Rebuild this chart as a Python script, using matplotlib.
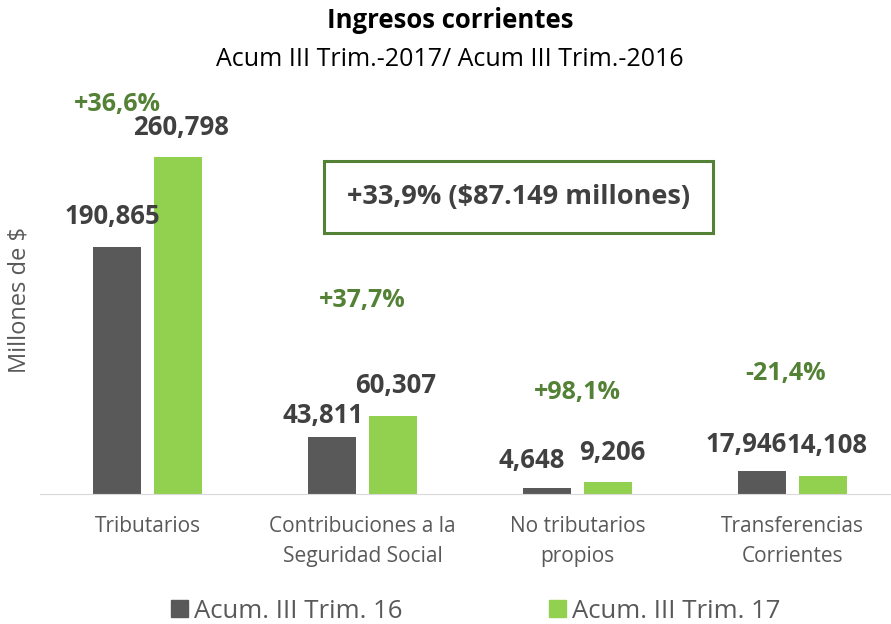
import matplotlib.pyplot as plt
from matplotlib.patches import Patch

# Data
categories = ['Tributarios', 'Contribuciones a la\nSeguridad Social',
              'No tributarios\npropios', 'Transferencias\nCorrientes']
acum_16 = [190865, 43811, 4648, 17946]
acum_17 = [260798, 60307, 9206, 14108]
pct_labels = ['+36,6%', '+37,7%', '+98,1%', '-21,4%']
series_names = ['Acum. III Trim. 16', 'Acum. III Trim. 17']
total_label = '+33,9% ($87.149 millones)'

# Styling / placement
dark = '#595959'
green = '#92D050'
pct_green = '#538135'
label_col = '#404040'
pct_x = [-0.14, 0.0, 0.0, -0.03]              # shift of % labels from category centre
pct_y = [300800, 150000, 78800, 92800]        # height of % labels (data units)
dx16 = [-5, -9, -15, -16]                      # value label offsets, pixels
dx17 = [3, 3, 4, 4]
dy16 = [23, 14, 20, 19]
dy17 = [22, 23, 22, 23]

plt.rcParams['font.family'] = ['Open Sans', 'DejaVu Sans']

fig = plt.figure(figsize=(8.91, 6.24), dpi=100)
ax = fig.add_axes([40 / 891, 130 / 624, 860 / 891, 388 / 624])

x = range(len(categories))
w = 0.223
off = 0.142
ax.bar([i - off for i in x], acum_16, w, color=dark)
ax.bar([i + off for i in x], acum_17, w, color=green)

ax.set_xlim(-0.5, 3.5)
ax.set_ylim(0, 300000)

px = 0.72  # pixels -> points
for i in x:
    ax.annotate(f'{acum_16[i]:,}', xy=(i - off, acum_16[i]),
                xytext=(dx16[i] * px, dy16[i] * px), textcoords='offset points',
                ha='center', va='baseline', fontsize=18.5, fontweight='bold',
                color=label_col, annotation_clip=False)
    ax.annotate(f'{acum_17[i]:,}', xy=(i + off, acum_17[i]),
                xytext=(dx17[i] * px, dy17[i] * px), textcoords='offset points',
                ha='center', va='baseline', fontsize=18.5, fontweight='bold',
                color=label_col, annotation_clip=False)
    ax.text(i + pct_x[i], pct_y[i], pct_labels[i],
            ha='center', va='center', fontsize=18, fontweight='bold',
            color=pct_green, clip_on=False)

ax.text(1.726, 230000, total_label, ha='center', va='center', fontsize=19.5,
        fontweight='bold', color=label_col,
        bbox=dict(boxstyle='square,pad=0.85', fc='white', ec=pct_green, lw=2.2))

ax.set_xticks(list(x))
ax.set_xticklabels(categories, fontsize=15, color=dark, linespacing=1.55)
ax.tick_params(axis='x', length=0, pad=16)
ax.set_yticks([])
for s in ['top', 'right', 'left']:
    ax.spines[s].set_visible(False)
ax.spines['bottom'].set_color('#D9D9D9')

fig.text(20 / 891, 1 - 300 / 624, 'Millones de $', rotation=90, ha='center',
         va='center', fontsize=17, color=dark)
fig.text(450 / 891, 1 - 20 / 624, 'Ingresos corrientes', ha='center', va='center',
         fontsize=18.5, fontweight='bold', color='black')
fig.text(450 / 891, 1 - 60 / 624, 'Acum III Trim.-2017/ Acum III Trim.-2016',
         ha='center', va='center', fontsize=18, color='black')

handles = [Patch(color=dark), Patch(color=green)]
fig.legend(handles, series_names, loc='center', bbox_to_anchor=(476 / 891, 1 - 611 / 624),
           ncol=2, frameon=False, fontsize=18.5, handlelength=0.65, handleheight=0.65,
           handletextpad=0.25, columnspacing=5.7, labelcolor=dark,
           borderpad=0, borderaxespad=0)

fig.savefig('out.png', dpi=100)
